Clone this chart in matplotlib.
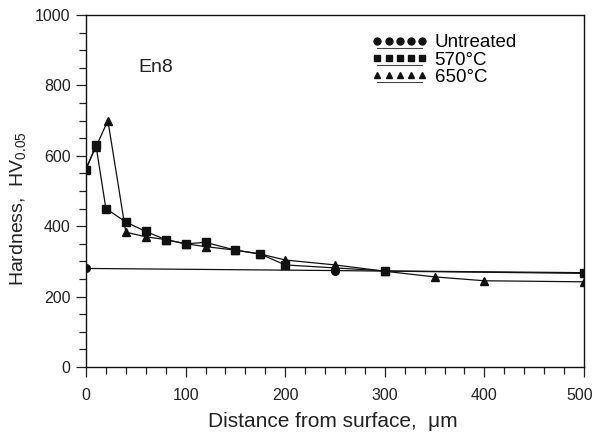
import numpy as np
import matplotlib
matplotlib.use("Agg")
import matplotlib.pyplot as plt
from matplotlib.legend_handler import HandlerLine2DCompound
from matplotlib.ticker import MultipleLocator, FixedFormatter, FixedLocator

# profils de durete
x_untreated = [0, 250, 500]
hv_untreated = [280, 274, 266]

x_570 = [0, 10, 20, 40, 60, 80, 100, 120, 150, 175, 200, 300, 500]
hv_570 = [560, 630, 450, 412, 385, 362, 350, 354, 332, 321, 290, 273, 268]

x_650 = [0, 10, 22, 40, 60, 80, 100, 120, 150, 175, 200, 250, 300, 350, 400, 500]
hv_650 = [565, 625, 700, 383, 370, 362, 350, 342, 332, 321, 304, 290, 272, 256, 245, 242]

labels = ["Untreated", "570°C", "650°C"]
x_ticks = [0, 100, 200, 300, 400, 500]


# legende : 5 symboles avec un trait en dessous
class HandlerUnderline(HandlerLine2DCompound):
    def create_artists(self, legend, orig_handle, xdescent, ydescent,
                       width, height, fontsize, trans):
        artists = super().create_artists(legend, orig_handle, xdescent, ydescent,
                                         width, height, fontsize, trans)
        line = artists[0]
        line.set_ydata(np.asarray(line.get_ydata()) - 5)
        line.set_linewidth(0.8)
        line.set_color('#444444')
        artists[1].set_markersize(5)
        return artists


plt.rcParams['font.family'] = ['Liberation Sans', 'DejaVu Sans']
fig = plt.figure(figsize=(5.95, 4.33), dpi=100)
ax = fig.add_axes([0.1445, 0.1524, 0.837, 0.813])

col = '#111111'
ax.plot(x_untreated, hv_untreated, '-o', color=col, lw=0.9, ms=5.5, label=labels[0])
ax.plot(x_570, hv_570, '-s', color=col, lw=0.9, ms=5.5, label=labels[1])
ax.plot(x_650, hv_650, '-^', color=col, lw=0.9, ms=6, label=labels[2])

ax.set_xlim(0, 500)
ax.set_ylim(0, 1000)
ax.xaxis.set_major_locator(FixedLocator(x_ticks))
# le "500" touche le bord droit, il est ecrit a part un peu decale
ax.xaxis.set_major_formatter(FixedFormatter([str(t) for t in x_ticks[:-1]] + [""]))
ax.xaxis.set_minor_locator(MultipleLocator(20))
ax.yaxis.set_major_locator(MultipleLocator(200))
ax.yaxis.set_minor_locator(MultipleLocator(50))
ax.tick_params(which='both', direction='out', top=False, right=False,
               labelsize=11.5, colors='#222222', width=0.9)
ax.tick_params(which='major', length=7)
ax.tick_params(which='minor', length=5)
ax.tick_params(axis='x', which='major', pad=8)
ax.tick_params(axis='y', which='major', pad=4)
for s in ax.spines.values():
    s.set_linewidth(1.0)
    s.set_color('#111111')

ax.annotate(str(x_ticks[-1]), xy=(x_ticks[-1], 0), xytext=(-3, -15),
            textcoords='offset points', ha='center', va='top',
            fontsize=11.5, color='#222222', annotation_clip=False)

ax.set_xlabel("Distance from surface,  μm", fontsize=15, color='#222222')
ax.xaxis.set_label_coords(0.496, -0.127)
ax.set_ylabel("Hardness,  HV$_{\\mathregular{0.05}}$", fontsize=14, color='#222222')
ax.yaxis.set_label_coords(-0.114, 0.45)
ax.text(53, 852, "En8", fontsize=14, color='#222222', va='center')

ax.legend(loc='upper left', bbox_to_anchor=(0.574, 0.945), frameon=False,
          borderpad=0, borderaxespad=0,
          numpoints=5, handlelength=3.0, handletextpad=0.35, labelspacing=0.0,
          fontsize=13.5, handler_map={plt.Line2D: HandlerUnderline()})

fig.savefig("out.png", dpi=100)
